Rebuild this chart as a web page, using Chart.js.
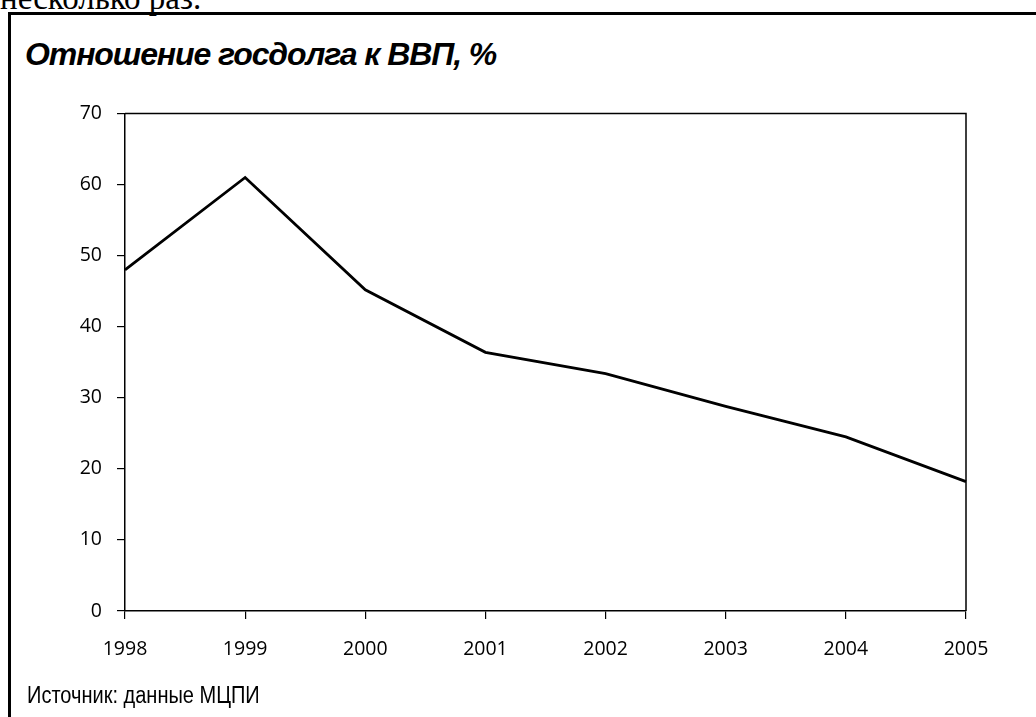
<!DOCTYPE html>
<html>
<head>
<meta charset="utf-8">
<script src="https://cdn.jsdelivr.net/npm/chart.js@4/dist/chart.umd.min.js"></script>
<style>
  html, body { margin: 0; padding: 0; background: #fff; overflow: hidden; }
  body { width: 1036px; height: 717px; position: relative; }
  #above { position: absolute; left: 0px; top: -20px; font-family: "Liberation Serif", "Times New Roman", serif; font-size: 33px; line-height: 36px; color: #000; white-space: nowrap; }
  #frame { position: absolute; left: 8px; top: 12px; width: 1200px; height: 900px; border: 3px solid #000; box-sizing: border-box; }
  #title { position: absolute; left: 25px; top: 35px; font-family: "Liberation Sans", Arial, sans-serif; font-weight: bold; font-style: italic; font-size: 32px; letter-spacing: -1.1px; line-height: 38px; color: #000; white-space: nowrap; }
  #source { position: absolute; left: 27px; top: 682px; font-family: "Liberation Sans", Arial, sans-serif; font-size: 23px; line-height: 26px; color: #000; white-space: nowrap; transform: scaleX(0.87); transform-origin: 0 0; }
  #wrap { position: absolute; left: 0; top: 0; width: 1036px; height: 717px; }
</style>
</head>
<body>
<div id="above">несколько раз.</div>
<div id="frame"></div>
<div id="title">Отношение госдолга к ВВП, %</div>
<div id="wrap"><canvas id="c" width="1036" height="717"></canvas></div>
<div id="source">Источник: данные МЦПИ</div>
<script>
const years = ["1998", "1999", "2000", "2001", "2002", "2003", "2004", "2005"];
const debtToGdp = [48.0, 61.0, 45.2, 36.4, 33.4, 28.8, 24.5, 18.2];
const yTicks = [0, 10, 20, 30, 40, 50, 60, 70];

const frameBox = {
  id: 'frameBox',
  afterDraw(chart) {
    const a = chart.chartArea, ctx = chart.ctx;
    ctx.save();
    ctx.strokeStyle = '#000';
    ctx.lineWidth = 1.5;
    ctx.beginPath();
    ctx.moveTo(a.left, a.top);
    ctx.lineTo(a.right, a.top);
    ctx.lineTo(a.right, a.bottom);
    ctx.stroke();
    ctx.restore();
  }
};

new Chart(document.getElementById('c'), {
  type: 'line',
  data: {
    labels: years,
    datasets: [{
      data: debtToGdp,
      borderColor: '#000',
      borderWidth: 2.8,
      pointRadius: 0,
      tension: 0,
      fill: false
    }]
  },
  options: {
    responsive: false,
    animation: false,
    events: [],
    layout: { padding: { left: 65, right: 70, top: 113.5, bottom: 46 } },
    plugins: { legend: { display: false }, tooltip: { enabled: false }, title: { display: false } },
    scales: {
      x: {
        type: 'category',
        offset: false,
        clip: false,
        afterFit(s) { s.height = 60; },
        grid: { display: true, drawOnChartArea: false, drawTicks: true, tickLength: 8, color: '#000', lineWidth: 1.2 },
        border: { display: true, color: '#000', width: 1.5 },
        ticks: { color: '#000', padding: 19, maxRotation: 0, autoSkip: false,
                 font: { family: '"Open Sans", sans-serif', size: 19.5 } }
      },
      y: {
        min: 0, max: 70,
        clip: false,
        afterFit(s) { s.width = 60; },
        afterBuildTicks(s) { s.ticks = yTicks.map(v => ({ value: v })); },
        grid: { display: true, drawOnChartArea: false, drawTicks: true, tickLength: 8, color: '#000', lineWidth: 1.2 },
        border: { display: true, color: '#000', width: 1.5 },
        ticks: { color: '#000', padding: 15, stepSize: 10,
                 font: { family: '"Open Sans", sans-serif', size: 19.5 } }
      }
    }
  },
  plugins: [frameBox]
});
</script>
</body>
</html>
